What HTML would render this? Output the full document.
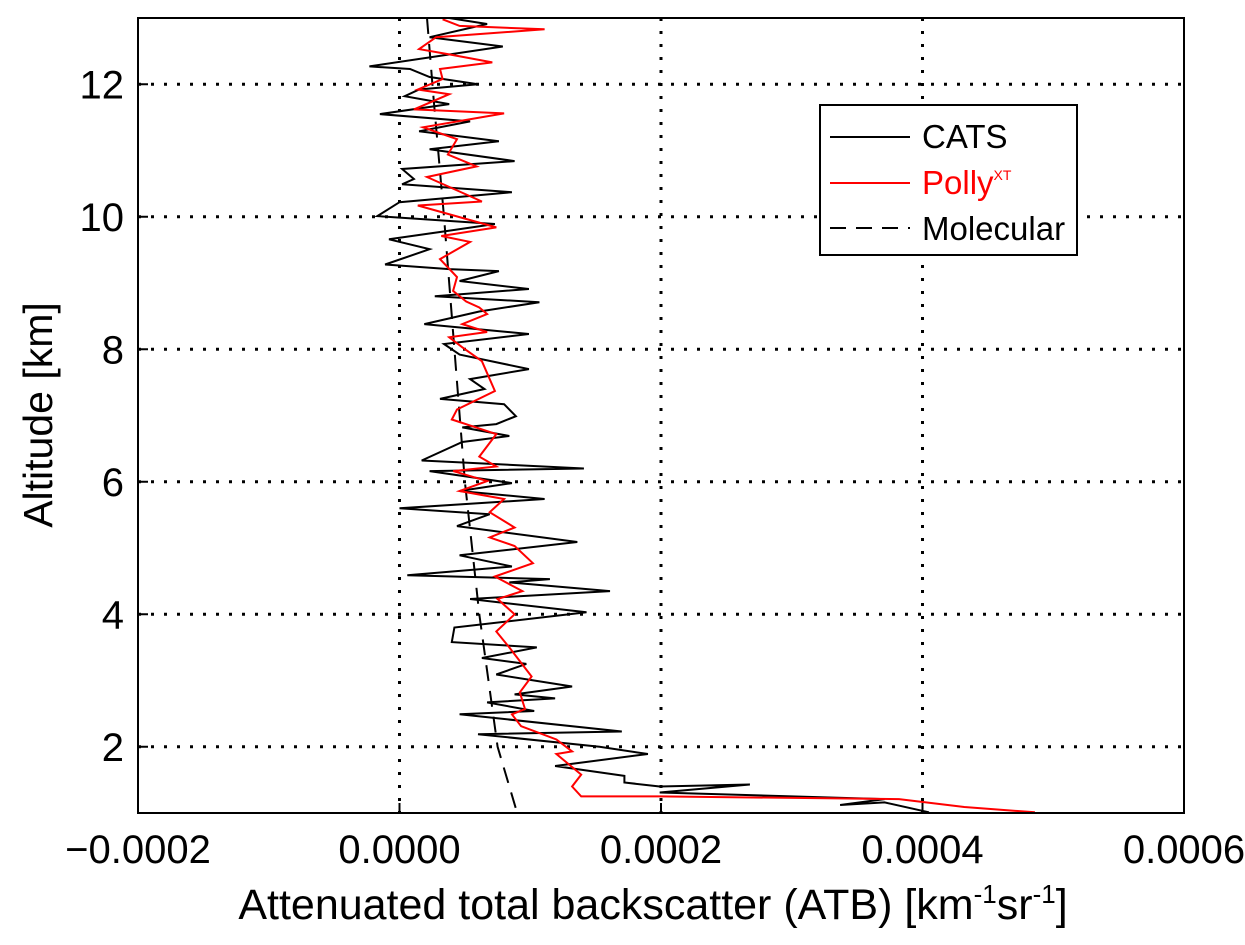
<!DOCTYPE html>
<html><head><meta charset="utf-8"><style>
html,body{margin:0;padding:0;background:#fff;}
svg{display:block;font-family:"Liberation Sans",Arial,sans-serif;}
</style></head><body>
<svg id="chart" width="1245" height="945" viewBox="0 0 1245 945" xmlns="http://www.w3.org/2000/svg">
<g id="grid"></g>
<g id="series"></g>
<rect x="138" y="18" width="1046" height="795" fill="none" stroke="#000" stroke-width="2"/>
<g id="ticks"></g>
<text x="653" y="919" font-size="43" text-anchor="middle">Attenuated total backscatter (ATB) [km<tspan dy="-16" font-size="26">-1</tspan><tspan dy="16">sr</tspan><tspan dy="-16" font-size="26">-1</tspan><tspan dy="16">]</tspan></text>
<text transform="translate(52,415) rotate(-90)" font-size="41" text-anchor="middle">Altitude [km]</text>
<g>
<rect x="820" y="105" width="257" height="150" fill="#fff" stroke="#000" stroke-width="2"/>
<line x1="830" y1="137" x2="910" y2="137" stroke="#000" stroke-width="2"/>
<text x="922" y="148" font-size="33">CATS</text>
<line x1="830" y1="183" x2="910" y2="183" stroke="#f00" stroke-width="2"/>
<text x="922" y="194" font-size="33" fill="#f00">Polly<tspan dy="-14" font-size="14">XT</tspan></text>
<line x1="830" y1="228" x2="910" y2="228" stroke="#000" stroke-width="2" stroke-dasharray="16,10"/>
<text x="922" y="240" font-size="33">Molecular</text>
</g>
</svg>
<script>
const xTicks = [-0.0002, 0.0000, 0.0002, 0.0004, 0.0006];
const xTickLabels = ["\u22120.0002", "0.0000", "0.0002", "0.0004", "0.0006"];
const yTicks = [2, 4, 6, 8, 10, 12];
const yTickLabels = ["2", "4", "6", "8", "10", "12"];
const catsAlt = [13.0,12.91,12.71,12.57,12.27,12.23,12.11,12.0,11.92,11.82,11.70,11.55,11.44,11.29,11.14,11.02,10.84,10.72,10.57,10.49,10.37,10.22,10.01,9.89,9.78,9.66,9.51,9.28,9.21,9.18,9.03,8.91,8.80,8.71,8.57,8.38,8.23,8.08,7.92,7.70,7.55,7.40,7.25,7.17,6.99,6.87,6.82,6.69,6.60,6.32,6.20,6.16,5.98,5.86,5.74,5.60,5.51,5.33,5.09,4.89,4.72,4.59,4.53,4.48,4.35,4.23,4.03,3.80,3.58,3.50,3.34,3.25,3.09,2.91,2.79,2.73,2.67,2.54,2.49,2.23,2.19,2.0,1.89,1.71,1.56,1.46,1.40,1.43,1.31,1.21,1.12,1.16,1.01];
const catsATB = [0.38,0.67,0.23,0.79,-0.23,0.08,0.23,0.60,0.15,0.04,0.38,-0.15,0.54,0.15,0.76,0.23,0.88,0.02,0.11,0.02,0.86,0,-0.17,0.73,0.35,-0.08,0.23,-0.11,0.38,0.76,0.46,0.99,0.27,1.07,0.61,0.19,0.99,0.34,0.46,0.99,0.54,0.65,0.31,0.80,0.89,0.74,0.48,0.84,0.48,0.17,1.41,0.23,0.86,0.46,1.11,0,0.69,0.44,1.36,0.46,0.86,0.06,1.15,0.84,1.61,0.54,1.43,0.42,0.40,1.05,0.63,0.97,0.74,1.32,0.88,1.19,0.67,1.03,0.46,1.70,0.60,1.53,1.90,1.19,1.72,1.72,1.99,2.68,1.99,3.71,3.37,3.71,4.05].map(v=>v*1e-4);
const pollyAlt = [12.98,12.88,12.83,12.71,12.53,12.45,12.33,12.23,12.08,11.92,11.85,11.62,11.56,11.35,11.17,10.94,10.76,10.60,10.23,10.17,9.84,9.71,9.62,9.36,9.09,8.88,8.72,8.63,8.53,8.38,8.26,8.18,8.03,7.82,7.37,7.09,6.94,6.72,6.38,6.23,6.16,6.01,5.86,5.74,5.54,5.31,5.16,5.03,4.77,4.57,4.35,4.23,4.0,3.74,3.50,3.06,2.82,2.57,2.49,2.31,2.11,1.93,1.89,1.58,1.40,1.25,1.25,1.21,1.09,1.01];
const pollyATB = [0.33,0.46,1.11,0.28,0.15,0.38,0.71,0.31,0.33,0.14,0.38,0.11,0.80,0.18,0.44,0.37,0.59,0.21,0.63,0.14,0.74,0.32,0.54,0.31,0.44,0.41,0.51,0.61,0.67,0.48,0.67,0.38,0.48,0.63,0.73,0.44,0.40,0.74,0.61,0.74,0.41,0.67,0.46,0.80,0.69,0.88,0.69,0.88,1.02,0.73,0.94,0.75,0.88,0.74,0.84,1.01,0.92,0.96,0.86,0.93,1.20,1.32,1.20,1.39,1.32,1.39,1.99,3.82,4.32,4.86].map(v=>v*1e-4);
const molAlt = [13, 11.8, 10, 8, 6, 4, 2, 1];
const molATB = [0.21, 0.26, 0.34, 0.42, 0.50, 0.61, 0.75, 0.90].map(v=>v*1e-4);

const X0=138, X1=1184, Y0=813, Y1=18;
const xMin=-0.0002, xMax=0.0006, yMin=1.0, yMax=13.0;
function xs(v){return X0+(v-xMin)/(xMax-xMin)*(X1-X0);}
function ys(a){return Y0-(a-yMin)/(yMax-yMin)*(Y0-Y1);}
const NS="http://www.w3.org/2000/svg";
function mk(tag, attrs, parent){const e=document.createElementNS(NS,tag);for(const k in attrs)e.setAttribute(k,attrs[k]);parent.appendChild(e);return e;}
const grid=document.getElementById('grid'), ticks=document.getElementById('ticks'), series=document.getElementById('series');
xTicks.forEach((t,i)=>{
  const x=xs(t);
  if(i>0&&i<xTicks.length-1){
    const g=mk('line',{x1:x,y1:Y1,x2:x,y2:Y0,stroke:'#000','stroke-width':3,'stroke-dasharray':'3,10'},grid);
    
    
  }
  const tk=mk('line',{x1:x,y1:Y0,x2:x,y2:Y0-10,stroke:'#000','stroke-width':2},ticks);
  
  
  const lb=mk('text',{x:x,y:863,'font-size':40,'text-anchor':'middle'},ticks);
  lb.textContent=xTickLabels[i];
  
  
});
yTicks.forEach((t,i)=>{
  const y=ys(t);
  const g=mk('line',{x1:X0,y1:y,x2:X1,y2:y,stroke:'#000','stroke-width':3,'stroke-dasharray':'3,10'},grid);
  
  
  const tk=mk('line',{x1:X0,y1:y,x2:X0+10,y2:y,stroke:'#000','stroke-width':2},ticks);
  
  
  const lb=mk('text',{x:124,y:y+14,'font-size':40,'text-anchor':'end'},ticks);
  lb.textContent=yTickLabels[i];
  
  
});
function pts(a,v){return a.map((al,i)=>xs(v[i]).toFixed(1)+','+ys(al).toFixed(1)).join(' ');}
const mol=mk('polyline',{points:pts(molAlt,molATB),fill:'none',stroke:'#000','stroke-width':2,'stroke-dasharray':'16,10'},series);


const cats=mk('polyline',{points:pts(catsAlt,catsATB),fill:'none',stroke:'#000','stroke-width':2},series);


const polly=mk('polyline',{points:pts(pollyAlt,pollyATB),fill:'none',stroke:'#f00','stroke-width':2},series);


</script>
</body></html>
